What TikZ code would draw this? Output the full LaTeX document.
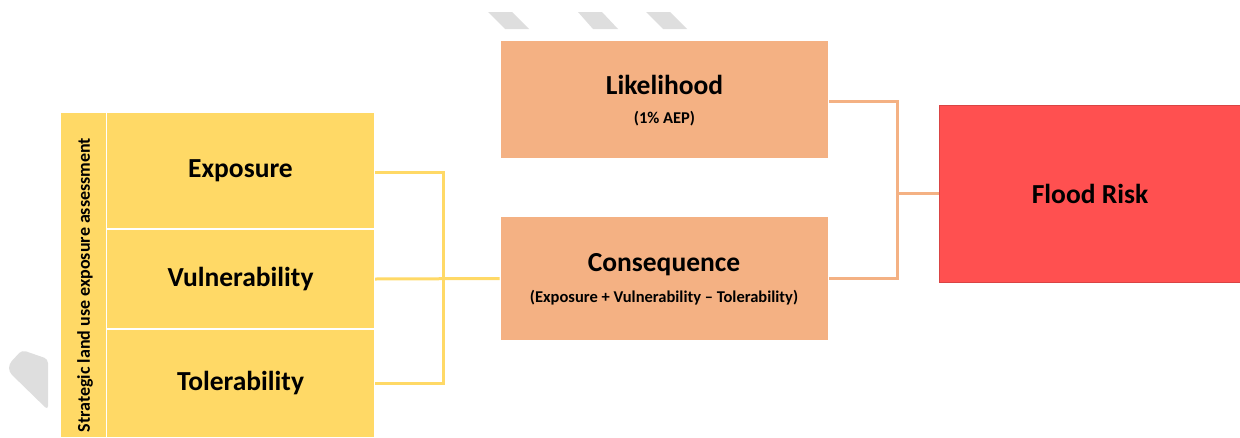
\documentclass[tikz,border=0pt]{standalone}
\usepackage{fontspec}
\setmainfont{Carlito}
\definecolor{yel}{HTML}{FFD966}
\definecolor{ora}{HTML}{F4B183}
\definecolor{red1}{HTML}{FF5050}
\definecolor{wm}{HTML}{DEDEDE}
\begin{document}
\begin{tikzpicture}[x=1pt,y=-1pt,
  ybox/.style={fill=yel,draw=white,line width=1.2pt,inner sep=0pt,font=\bfseries\fontsize{27.5}{30}\selectfont},
  obox/.style={fill=ora,draw=white,line width=1pt,inner sep=0pt,align=center},
  rbox/.style={fill=red1,draw=red1!85!black,line width=0.6pt,inner sep=0pt,font=\bfseries\fontsize{27.5}{30}\selectfont},
  ycon/.style={draw=yel,line width=3pt},
  ocon/.style={draw=ora,line width=3pt},
  ttl/.style={font=\bfseries\fontsize{27.5}{30}\selectfont},
  sub/.style={font=\bfseries\fontsize{16.5}{18}\selectfont}]
\useasboundingbox (0,0) rectangle (1240,437);
% watermark fragments
\fill[wm] (488,12) -- (512,12) -- (529,29) -- (505,29) -- cycle;
\fill[wm] (578,12) -- (602,12) -- (618,29) -- (593,29) -- cycle;
\fill[wm] (646,12) -- (670,12) -- (687,29) -- (663,29) -- cycle;
\fill[wm, rounded corners=4pt] (9,364) -- (22,350) -- (48,359) -- (48,410) -- (9,372) -- cycle;
% left column
\node[ybox, minimum width=46, minimum height=326] (strip) at (83.5,275) {};
\node[rotate=90, font=\bfseries\fontsize{18}{20}\selectfont] (striptxt) at (85,285) {Strategic land use exposure assessment};
\node[ybox, minimum width=268, minimum height=117] (exp) at (240.5,170.5) {Exposure};
\node[ybox, minimum width=268, minimum height=100] (vul) at (240.5,279) {Vulnerability};
\node[ybox, minimum width=268, minimum height=108] (tol) at (240.5,383.5) {Tolerability};
% middle
\node[obox, minimum width=328, minimum height=118] (lik) at (664.5,99.5) {};
\node[ttl] (likt) at (664.5,85) {Likelihood};
\node[sub] (liks) at (664.5,119) {(1\% AEP)};
\node[obox, minimum width=328, minimum height=124] (cons) at (664,278.5) {};
\node[ttl] (const) at (664,265) {Consequence};
\node[sub] (conss) at (664,298) {(Exposure + Vulnerability -- Tolerability)};
% right
\node[rbox, minimum width=302, minimum height=177] (flood) at (1090,193.5) {Flood Risk};
% connectors
\coordinate (jy) at (443,279);
\coordinate (jo) at (897,193.5);
\draw[ycon] (exp.east |- 0,172) -| (jy) |- (tol.east);
\draw[ycon] (vul.east) -- (cons.west);
\draw[ocon] (lik.east |- 0,101) -| (jo) |- (cons.east);
\draw[ocon] (jo) -- (flood.west);
\end{tikzpicture}
\end{document}
